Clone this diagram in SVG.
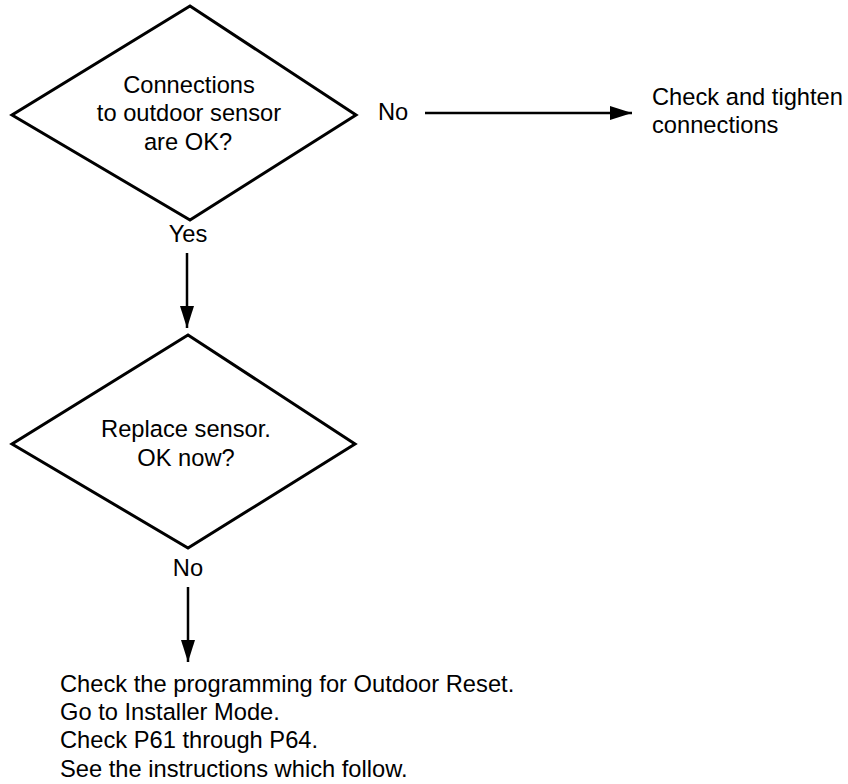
<svg xmlns="http://www.w3.org/2000/svg" width="848" height="784" viewBox="0 0 848 784">
  <defs>
    <style>
      .shape { fill: #ffffff; stroke: #000000; stroke-width: 3; stroke-linejoin: miter; }
      .label { font-family: "Liberation Sans", Arial, sans-serif; font-size: 23.7px; fill: #000000; }
      .mid { text-anchor: middle; }
      .link { fill: none; stroke: #000000; stroke-width: 2.5; }
    </style>
    <marker id="arrow" viewBox="0 0 22 14" refX="22" refY="7" markerWidth="22" markerHeight="14" markerUnits="userSpaceOnUse" orient="auto">
      <path d="M0,0 L22,7 L0,14 Z" fill="#000000"/>
    </marker>
  </defs>
  <rect width="848" height="784" fill="#ffffff"/>

  <!-- decision: sensor connections -->
  <g id="decision-connections">
    <polygon class="shape" points="190,6 356,115 190,220 12,115"/>
    <text class="label mid" x="189" y="93">Connections</text>
    <text class="label mid" x="189" y="121">to outdoor sensor</text>
    <text class="label mid" x="188" y="150">are OK?</text>
  </g>

  <!-- action: tighten connections -->
  <g id="action-tighten">
    <text class="label" x="652" y="105">Check and tighten</text>
    <text class="label" x="652" y="133">connections</text>
  </g>

  <!-- decision: replace sensor -->
  <g id="decision-replace">
    <polygon class="shape" points="188,335 355,444 188,548 12,444"/>
    <text class="label mid" x="186" y="437">Replace sensor.</text>
    <text class="label mid" x="186" y="466">OK now?</text>
  </g>

  <!-- action: check programming -->
  <g id="action-programming">
    <text class="label" x="60" y="692">Check the programming for Outdoor Reset.</text>
    <text class="label" x="60" y="720">Go to Installer Mode.</text>
    <text class="label" x="60" y="748">Check P61 through P64.</text>
    <text class="label" x="60" y="777">See the instructions which follow.</text>
  </g>

  <!-- connectors with branch labels -->
  <g id="connectors">
    <text class="label" x="378" y="120">No</text>
    <line class="link" x1="425" y1="113" x2="632" y2="113" marker-end="url(#arrow)"/>

    <text class="label mid" x="188" y="242">Yes</text>
    <line class="link" x1="187" y1="253" x2="187" y2="328" marker-end="url(#arrow)"/>

    <text class="label mid" x="188" y="576">No</text>
    <line class="link" x1="188" y1="587" x2="188" y2="662" marker-end="url(#arrow)"/>
  </g>
</svg>
